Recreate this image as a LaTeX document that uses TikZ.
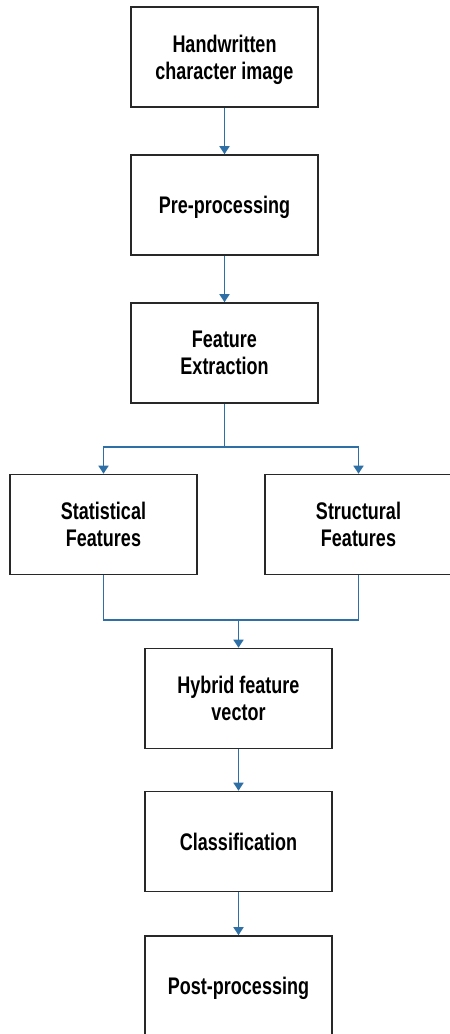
\documentclass[tikz,border=0pt]{standalone}
\usepackage{fontspec}
\newfontfamily\boxfont{Liberation Sans}[FakeStretch=0.75]
\usetikzlibrary{arrows.meta}
\definecolor{flowblue}{RGB}{46,112,165}
\definecolor{boxline}{RGB}{40,40,40}
\tikzset{
  stepbox/.style={draw=boxline, line width=1.6pt, fill=white,
    minimum width=187pt, minimum height=100pt, inner sep=0pt,
    align=center, text=black, text depth=0pt,
    font=\boxfont\bfseries\fontsize{24}{27}\selectfont},
  flow/.style={draw=flowblue, line width=1.5pt},
  flowarrow/.style={flow, -{Triangle[width=10pt,length=8pt]}}
}
\begin{document}
\begin{tikzpicture}[x=1pt,y=-1pt]
\useasboundingbox (0,0) rectangle (450,1034);
\fill[white] (0,0) rectangle (450,1034);

\node[stepbox] (img)  at (224.5,57)  {Handwritten\\character image};
\node[stepbox] (pre)  at (224.5,205) {Pre-processing};
\node[stepbox] (fex)  at (224.5,353) {Feature\\Extraction};
\node[stepbox] (stat) at (103.5,524.5) {Statistical\\Features};
\node[stepbox] (stru) at (358.5,524.5) {Structural\\Features};
\node[stepbox] (hyb)  at (238.5,698.5) {Hybrid feature\\vector};
\node[stepbox] (cls)  at (238.5,841.5) {Classification};
\node[stepbox] (post) at (238.5,986)  {Post-processing};

\coordinate (fork)  at (224.5,447);
\coordinate (merge) at (238.5,620);

\draw[flowarrow] (img) -- (pre);
\draw[flowarrow] (pre) -- (fex);
\draw[flow] (fex) -- (fork);
\draw[flowarrow] (fork) -| (stat.north);
\draw[flowarrow] (fork) -| (stru.north);
\draw[flow] (stat.south) |- (merge);
\draw[flow] (stru.south) |- (merge);
\draw[flowarrow] (merge) -- (hyb.north);
\draw[flowarrow] (hyb) -- (cls);
\draw[flowarrow] (cls) -- (post);
\end{tikzpicture}
\end{document}
